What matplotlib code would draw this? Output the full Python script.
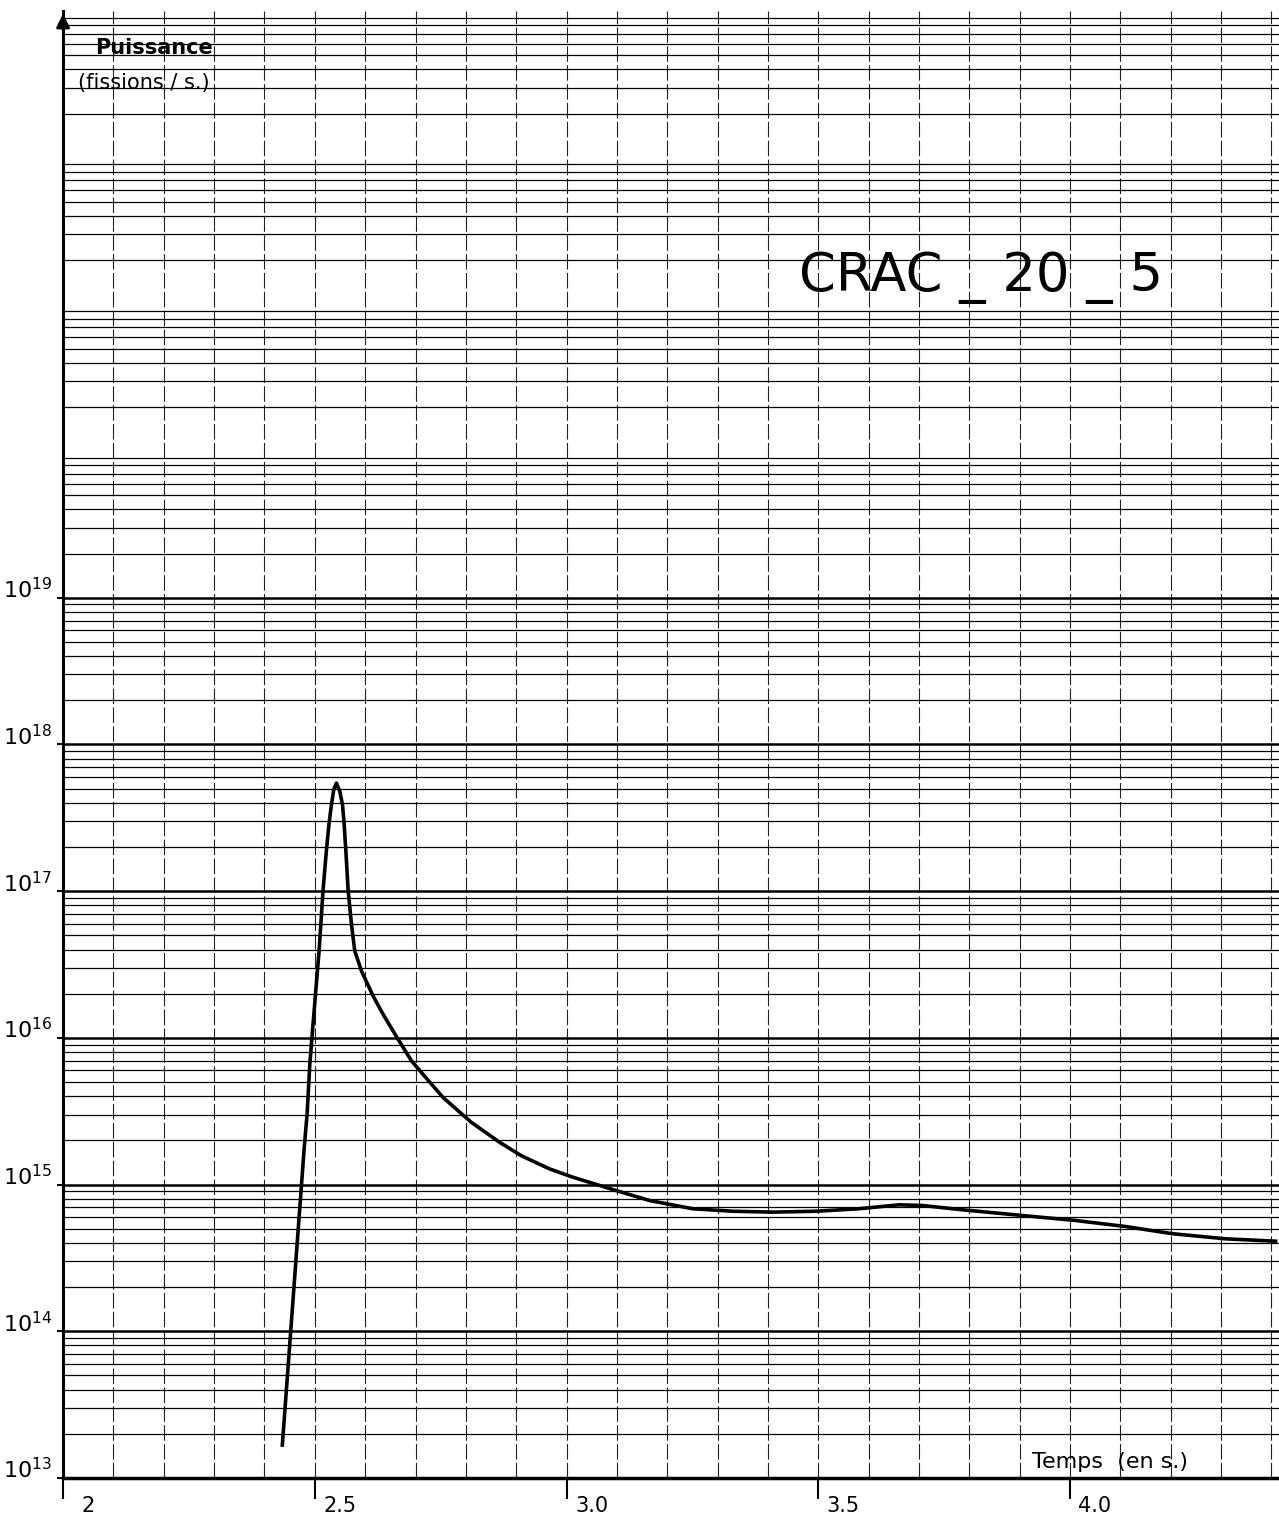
import numpy as np
import matplotlib
matplotlib.use("Agg")
import matplotlib.pyplot as plt
import matplotlib.ticker as mtick
from matplotlib.transforms import ScaledTranslation

# power trace (time in s, log10 of fissions/s)
temps = [2.4355, 2.4788, 2.4847, 2.4901, 2.4954, 2.5085, 2.5165, 2.5232, 2.5284,
         2.5331, 2.5377, 2.5430, 2.5496, 2.5550, 2.5581, 2.5615, 2.5661, 2.5728,
         2.5794, 2.5927, 2.6157, 2.6355, 2.6653, 2.6919, 2.7117, 2.7546, 2.8109,
         2.867, 2.910, 2.966, 3.0125, 3.0986, 3.165, 3.2506, 3.330, 3.409, 3.4954,
         3.581, 3.661, 3.707, 3.786, 3.905, 4.011, 4.110, 4.203, 4.309, 4.408]
log_puissance = [13.224, 15.243, 15.481, 15.821, 16.048, 16.592, 17.012, 17.284, 17.465,
                 17.590, 17.694, 17.737, 17.680, 17.590, 17.465, 17.284, 17.012, 16.774,
                 16.592, 16.456, 16.286, 16.161, 15.991, 15.844, 15.764, 15.594, 15.424,
                 15.288, 15.197, 15.107, 15.05, 14.959, 14.891, 14.835, 14.818, 14.812, 14.818,
                 14.835, 14.862, 14.857, 14.828, 14.789, 14.755, 14.714, 14.665, 14.63, 14.614]

xticks = [2.0, 2.5, 3.0, 3.5, 4.0]
xtick_labels = ["2", "2.5", "3.0", "3.5", "4.0"]
ydecades = [13, 14, 15, 16, 17, 18, 19]

fig = plt.figure(figsize=(12.79, 15.29), dpi=100)
ax = fig.add_axes([0.0493, 0.0334, 0.9507, 0.9594])

puissance = 10 ** np.array(log_puissance)
ax.plot(temps, puissance, color="black", lw=2.6, solid_joinstyle="round")

ax.set_yscale("log")
ax.set_xlim(2.0, 4.415)
ax.set_ylim(1e13, 1e23)

# paper grid: log horizontals, 0.1 s verticals
ax.yaxis.set_major_locator(mtick.LogLocator(base=10, numticks=20))
ax.yaxis.set_minor_locator(mtick.LogLocator(base=10, subs=range(2, 10), numticks=200))
ax.xaxis.set_minor_locator(mtick.MultipleLocator(0.1))
ax.grid(True, axis="y", which="major", color="black", lw=1.8)
ax.grid(True, axis="y", which="minor", color="black", lw=0.9)
ax.grid(True, axis="x", which="both", color="#222222", lw=0.8, ls=(0, (14, 3)))
ax.set_axisbelow(True)

ax.set_xticks(xticks)
ax.set_xticklabels(xtick_labels, fontsize=15)
ax.set_yticks([10.0 ** d for d in ydecades])
ax.set_yticklabels(["$10^{%d}$" % d for d in ydecades], fontsize=16)
ax.tick_params(axis="x", which="major", direction="out", length=15, width=1.5, pad=-2)
ax.tick_params(axis="x", which="minor", length=0)
ax.tick_params(axis="y", which="major", direction="out", length=4, width=1.5, pad=4)
ax.tick_params(axis="y", which="minor", length=0)

for lab in ax.get_xticklabels():
    lab.set_transform(lab.get_transform() + ScaledTranslation(0.25, 0, fig.dpi_scale_trans))
for lab in ax.get_yticklabels():
    lab.set_transform(lab.get_transform() + ScaledTranslation(0, 0.1, fig.dpi_scale_trans))

for side in ["top", "right"]:
    ax.spines[side].set_visible(False)
ax.spines["left"].set_linewidth(2.2)
ax.spines["bottom"].set_linewidth(2.5)

# arrow on the power axis
ax.annotate("", xy=(0, 1.0), xytext=(0, 0.985), xycoords="axes fraction",
            arrowprops=dict(arrowstyle="-|>", color="black", lw=2, mutation_scale=20))

ax.text(0.026, 0.975, "Puissance", transform=ax.transAxes, fontsize=15,
        fontweight="bold", va="center")
ax.text(0.012, 0.951, "(fissions / s.)", transform=ax.transAxes, fontsize=15,
        va="center")
ax.text(0.605, 1e21, "CRAC _ 20 _ 5", fontsize=38, transform=ax.get_yaxis_transform(),
        va="bottom", ha="left")
ax.text(0.797, 0.004, "Temps  (en s.)", transform=ax.transAxes, fontsize=16,
        va="bottom", ha="left")

fig.savefig("out.png", dpi=100)
